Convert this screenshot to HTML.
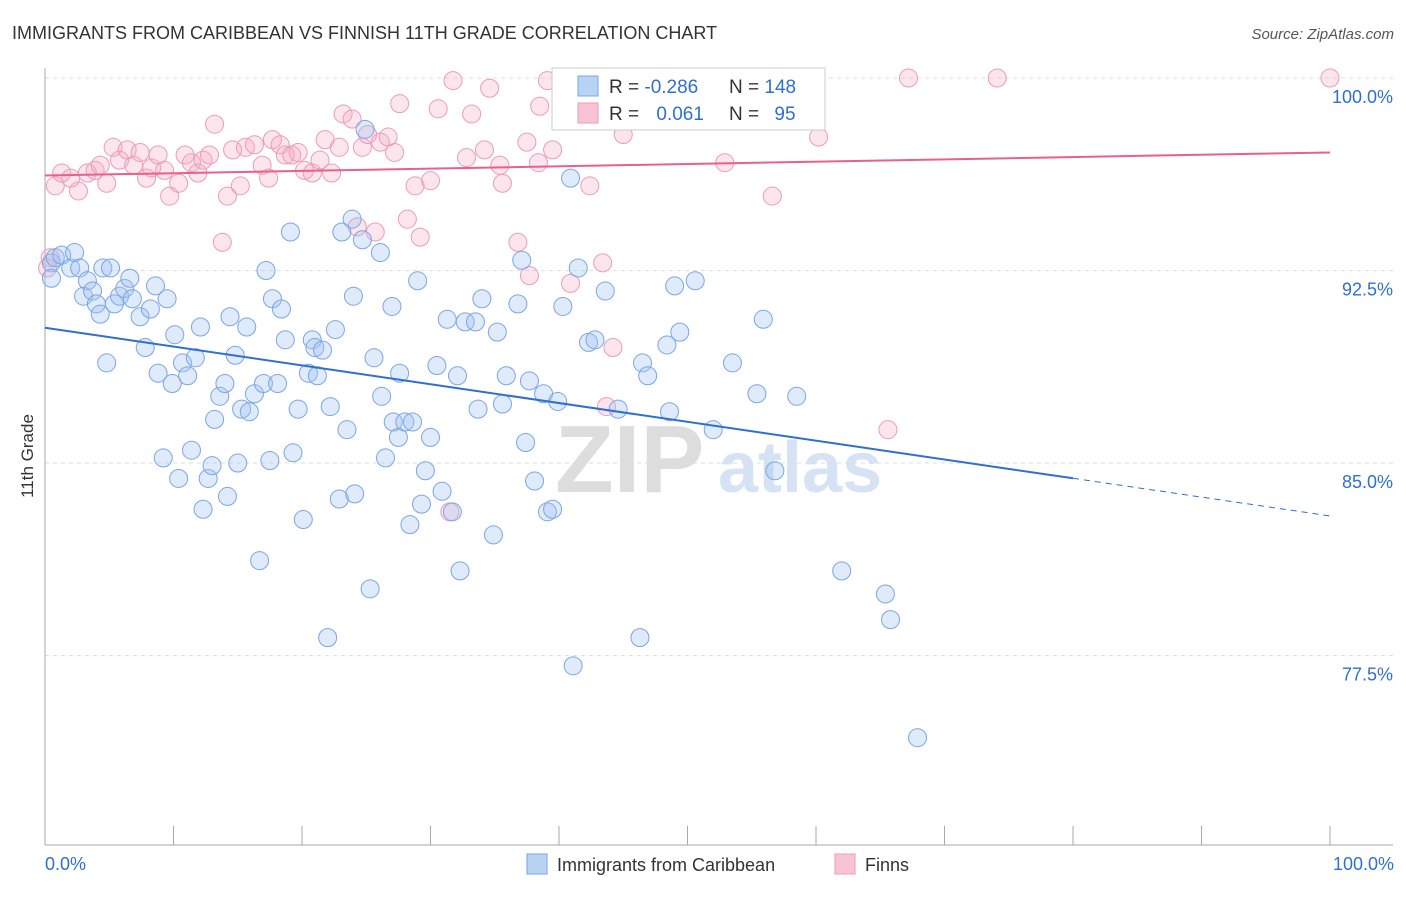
<!DOCTYPE html>
<html><head><meta charset="utf-8">
<style>
body{margin:0;background:#fff;font-family:"Liberation Sans",sans-serif;}
svg text{font-family:"Liberation Sans",sans-serif;}
</style></head>
<body>
<svg id="chart" width="1406" height="892" xmlns="http://www.w3.org/2000/svg">
<text x="12" y="39" font-size="18" fill="#333">IMMIGRANTS FROM CARIBBEAN VS FINNISH 11TH GRADE CORRELATION CHART</text>
<text x="1394" y="39" font-size="15" fill="#555" text-anchor="end" font-style="italic">Source: ZipAtlas.com</text>
<text x="33" y="456" font-size="17" fill="#333" text-anchor="middle" transform="rotate(-90 33 456)">11th Grade</text>
<g>
<text x="555" y="492" font-size="96" fill="#ddd" font-family="Liberation Serif" font-weight="bold">ZIP</text>
<text x="718" y="492" font-size="72" fill="#d5e3f5" font-weight="bold">atlas</text>
</g>
<g id="grid"></g>
<g id="axes"></g>
<g id="pts"></g>
<g id="lines"></g>
<g>
<rect x="552" y="68" width="273" height="62" fill="#fff" stroke="#ccc"/>
<rect x="578" y="76" width="20" height="20" fill="#b9d3f5" stroke="#7aa6e6"/>
<rect x="578" y="103" width="20" height="20" fill="#f8c3d4" stroke="#ec9bb8"/>
<text x="609" y="93" font-size="19" fill="#333">R = <tspan fill="#2f6fd0">-0.286</tspan></text>
<text x="729" y="93" font-size="19" fill="#333">N = <tspan fill="#2f6fd0">148</tspan></text>
<text x="609" y="120" font-size="19" fill="#333">R = <tspan fill="#2f6fd0" dx="12">0.061</tspan></text>
<text x="729" y="120" font-size="19" fill="#333">N = <tspan fill="#2f6fd0" dx="10">95</tspan></text>
</g>
<g>
<rect x="527" y="854" width="20" height="20" fill="#b9d3f5" stroke="#7aa6e6"/>
<text x="557" y="871" font-size="18" fill="#333">Immigrants from Caribbean</text>
<rect x="835" y="854" width="20" height="20" fill="#f8c3d4" stroke="#ec9bb8"/>
<text x="865" y="871" font-size="18" fill="#333">Finns</text>
</g>
</svg>
<script>
const yTicks=[100,92.5,85,77.5];
const yTickLabels=["100.0%","92.5%","85.0%","77.5%"];
const xTicks=[0,10,20,30,40,50,60,70,80,90,100];
const xEndLabels=["0.0%","100.0%"];
const blueX=[0.5,0.8,1.3,2.0,2.3,2.7,3.3,3.0,3.7,4.0,4.3,4.5,5.1,4.8,5.4,5.8,6.2,6.6,6.8,7.4,7.8,8.2,8.6,8.8,9.2,9.5,9.9,10.1,10.4,10.7,11.1,11.4,11.7,12.1,12.3,12.7,13.0,13.2,13.6,14.0,14.2,14.4,14.8,15.0,15.3,15.7,15.9,16.3,16.7,17.0,17.2,17.5,17.7,18.1,18.4,18.7,19.1,19.3,19.7,20.1,20.5,20.8,21.0,21.2,21.6,22.0,22.2,22.6,22.9,23.1,23.5,23.9,24.0,24.1,24.7,24.9,25.3,25.6,26.1,26.2,26.5,27.0,27.1,27.5,27.6,28.0,28.4,28.6,29.0,29.3,29.6,30.0,30.5,30.9,31.3,31.7,32.1,32.3,32.7,33.5,33.7,34.0,34.9,35.2,35.6,35.9,36.8,37.1,37.4,37.7,38.1,38.8,39.1,39.5,39.9,40.3,40.9,41.1,41.5,42.3,42.8,43.6,44.6,46.3,46.5,46.9,48.4,48.6,49.0,49.4,50.6,52.0,52.4,53.5,55.4,55.9,56.8,58.5,62.0,65.4,65.8,67.9,0.5];
const blueY=[92.8,93.0,93.1,92.6,93.2,92.6,92.1,91.5,91.7,91.2,90.8,92.6,92.6,88.9,91.2,91.5,91.8,92.2,91.4,90.7,89.5,91.0,91.9,88.5,85.2,91.4,88.1,90.0,84.4,88.9,88.4,85.5,89.1,90.3,83.2,84.4,84.9,86.7,87.6,88.1,83.7,90.7,89.2,85.0,87.1,90.3,87.0,87.7,81.2,88.1,92.5,85.1,91.4,88.1,91.0,89.8,94.0,85.4,87.1,82.8,88.5,89.8,89.5,88.4,89.4,78.2,87.2,90.2,83.6,94.0,86.3,94.5,91.5,83.8,93.7,98.0,80.1,89.1,93.2,87.6,85.2,91.1,86.6,86.0,88.5,86.6,82.6,86.6,92.1,83.4,84.7,86.0,88.8,83.9,90.6,83.1,88.4,80.8,90.5,90.5,87.1,91.4,82.2,90.1,87.3,88.4,91.2,92.9,85.8,88.2,84.3,87.7,83.1,83.2,87.4,91.1,96.1,77.1,92.6,89.7,89.8,91.7,87.1,78.2,88.9,88.4,89.6,87.0,91.9,90.1,92.1,86.3,100.0,88.9,87.7,90.6,84.7,87.6,80.8,79.9,78.9,74.3,92.2];
const pinkX=[0.8,0.4,0.2,1.3,2.0,2.6,3.3,3.9,4.3,4.8,5.3,5.8,6.4,6.9,7.4,7.9,8.3,8.8,9.3,9.7,10.4,10.9,11.4,11.9,12.3,12.8,13.2,13.8,14.2,14.6,15.2,15.6,16.3,16.9,17.4,17.7,18.3,18.7,19.2,19.7,20.2,20.8,21.4,21.8,22.3,22.9,23.2,23.9,24.3,24.7,25.1,25.7,26.1,26.7,27.2,27.6,28.2,28.8,29.2,30.0,30.6,31.5,31.75,32.8,33.2,34.2,34.6,35.4,35.6,36.8,37.5,37.7,38.4,38.5,39.1,39.5,40.9,41.9,42.4,43.4,44.2,43.7,45.0,51.9,52.9,55.6,56.6,59.1,60.2,65.6,67.2,74.1,100,58.9];
const pinkY=[95.8,93.0,92.6,96.3,96.1,95.6,96.3,96.4,96.6,95.9,97.3,96.8,97.2,96.6,97.1,96.1,96.5,97.0,96.4,95.4,95.9,97.0,96.7,96.3,96.8,97.0,98.2,93.6,95.4,97.2,95.8,97.3,97.4,96.6,96.1,97.6,97.4,97.0,97.0,97.1,96.4,96.3,96.8,97.6,96.3,97.3,98.6,98.4,94.2,97.3,97.8,94.0,97.5,97.7,97.1,99.0,94.5,95.8,93.8,96.0,98.8,83.1,99.9,96.9,98.6,97.2,99.6,96.6,95.9,93.6,97.5,92.3,96.7,98.9,99.9,97.2,92.0,99.9,95.8,92.8,89.5,87.2,97.8,98.7,96.7,99.9,95.4,98.4,97.7,86.3,100.0,100.0,100,100];
const blueTrend=[90.27,-0.0733]; // intercept, slope
const pinkTrend=[96.2,0.009];

const NS="http://www.w3.org/2000/svg";
const X0=45,X1=1330,Y100=78,PX_PER=25.67;
const sx=v=>X0+(X1-X0)*v/100;
const sy=v=>Y100+(100-v)*PX_PER;
function mk(tag,attrs,parent){const e=document.createElementNS(NS,tag);for(const k in attrs)e.setAttribute(k,attrs[k]);parent.appendChild(e);return e;}
const grid=document.getElementById('grid'),axes=document.getElementById('axes'),pts=document.getElementById('pts'),lines=document.getElementById('lines');
yTicks.forEach((t,i)=>{
  const l=mk('line',{x1:X0,x2:1393,y1:sy(t),y2:sy(t),stroke:'#ddd','stroke-dasharray':'4 4'},grid);
  
  
  const tx=mk('text',{x:1393,y:sy(t)+25,'font-size':18,fill:'#2f6fd0','text-anchor':'end'},grid);
  tx.textContent=yTickLabels[i];
  
  
});
const ax=mk('line',{x1:X0,x2:1393,y1:845,y2:845,stroke:'#aaa'},axes);


const ay=mk('line',{x1:X0,x2:X0,y1:68,y2:845,stroke:'#aaa'},axes);


xTicks.forEach(t=>{
  const l=mk('line',{x1:sx(t),x2:sx(t),y1:826,y2:845,stroke:'#aaa'},axes);
  
  
});
[[0,'start',X0],[1,'end',1394]].forEach(([i,a,x])=>{
  const tx=mk('text',{x:x,y:870,'font-size':18,fill:'#2f6fd0','text-anchor':a},axes);
  tx.textContent=xEndLabels[i];
  
  
});
pinkX.forEach((x,i)=>{
  const c=mk('circle',{cx:sx(x),cy:sy(pinkY[i]),r:9,fill:'rgba(244,170,195,0.3)',stroke:'#ec9bb8','stroke-width':1},pts);
  
  
});
blueX.forEach((x,i)=>{
  const c=mk('circle',{cx:sx(x),cy:sy(blueY[i]),r:9,fill:'rgba(164,196,240,0.35)',stroke:'#7aa6e6','stroke-width':1},pts);
  
  
});
const bt=x=>blueTrend[0]+blueTrend[1]*x, pt=x=>pinkTrend[0]+pinkTrend[1]*x;
const b1=mk('line',{x1:sx(0),y1:sy(bt(0)),x2:sx(80),y2:sy(bt(80)),stroke:'#2f6fd0','stroke-width':2},lines);


const b2=mk('line',{x1:sx(80),y1:sy(bt(80)),x2:sx(100),y2:sy(bt(100)),stroke:'#2f6fd0','stroke-width':1,'stroke-dasharray':'6 5'},lines);


const p1=mk('line',{x1:sx(0),y1:sy(pt(0)),x2:sx(100),y2:sy(pt(100)),stroke:'#e8608c','stroke-width':2},lines);


</script>
</body></html>
